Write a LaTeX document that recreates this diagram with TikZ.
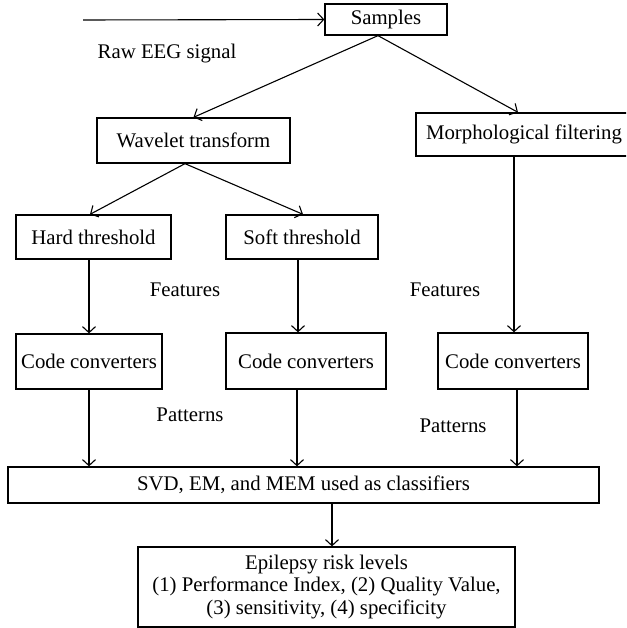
\documentclass[tikz,border=0pt]{standalone}
\usepackage{fontspec}
\setmainfont{Liberation Serif}
\usetikzlibrary{arrows.meta}
\begin{document}
\begin{tikzpicture}[x=1pt,y=-1pt,
  box/.style={draw,line width=1.3pt,inner sep=0pt,align=center,font=\fontsize{20.8}{22.5}\selectfont},
  lbl/.style={inner sep=0pt,font=\fontsize{20.8}{22.5}\selectfont},
  arr/.style={-{Straight Barb[length=6pt,width=13pt,line width=1.1pt]},line width=1.1pt}]
\useasboundingbox (0,0) rectangle (626,628);
\clip (0,0) rectangle (626,628);
\node[box,minimum width=122pt,minimum height=31pt] (samp) at (386,19.5) {Samples};
\coordinate (in) at (83,20);
\node[lbl] (raw) at (167,54) {Raw EEG signal};
\node[box,minimum width=193pt,minimum height=45pt] (wav) at (193.5,140.5) {Wavelet transform};
\node[box,minimum width=222pt,minimum height=43pt] (mor) at (527,134.5) {\hspace*{-6pt}Morphological filtering};
\node[box,minimum width=155pt,minimum height=44pt] (hard) at (93.5,237) {Hard threshold};
\node[box,minimum width=152pt,minimum height=44pt] (soft) at (302,237) {Soft threshold};
\node[lbl] (f1) at (185,290) {Features};
\node[lbl] (f2) at (445,290) {Features};
\node[box,minimum width=146pt,minimum height=55pt] (cc1) at (89,361.5) {Code converters};
\node[box,minimum width=160pt,minimum height=56pt] (cc2) at (306,361) {Code converters};
\node[box,minimum width=150pt,minimum height=56pt] (cc3) at (513,361) {Code converters};
\node[lbl] (p1) at (190,415) {Patterns};
\node[lbl] (p2) at (453,426) {Patterns};
\node[box,minimum width=591pt,minimum height=36pt] (svd) at (303.5,485) {SVD, EM, and MEM used as classifiers};
\node[box,minimum width=377pt,minimum height=80pt] (epi) at (326.5,587) {Epilepsy risk levels\\(1) Performance Index, (2) Quality Value,\\(3) sensitivity, (4) specificity};

\draw[arr] (in) -- (samp.west);
\draw[arr] ([xshift=-8pt]samp.south) -- (wav.north);
\draw[arr] ([xshift=-8pt]samp.south) -- ([xshift=-9pt]mor.north);
\draw[arr] ([xshift=-8.5pt]wav.south) -- ([xshift=-3.5pt]hard.north);
\draw[arr] ([xshift=-8.5pt]wav.south) -- ([xshift=1pt]soft.north);
\draw[arr] (cc1.north |- hard.south) -- (cc1.north);
\draw[arr] ([xshift=-4pt]soft.south) -- ([xshift=-8pt]cc2.north);
\draw[arr] ([xshift=1pt]cc3.north |- mor.south) -- ([xshift=1pt]cc3.north);
\draw[arr] (cc1.south) -- (cc1.south |- svd.north);
\draw[arr] ([xshift=-9pt]cc2.south) -- ([xshift=-9pt]cc2.south |- svd.north);
\draw[arr] ([xshift=4pt]cc3.south) -- ([xshift=4pt]cc3.south |- svd.north);
\draw[arr] ([xshift=28.5pt]svd.south) -- ([xshift=5.5pt]epi.north);
\end{tikzpicture}
\end{document}
